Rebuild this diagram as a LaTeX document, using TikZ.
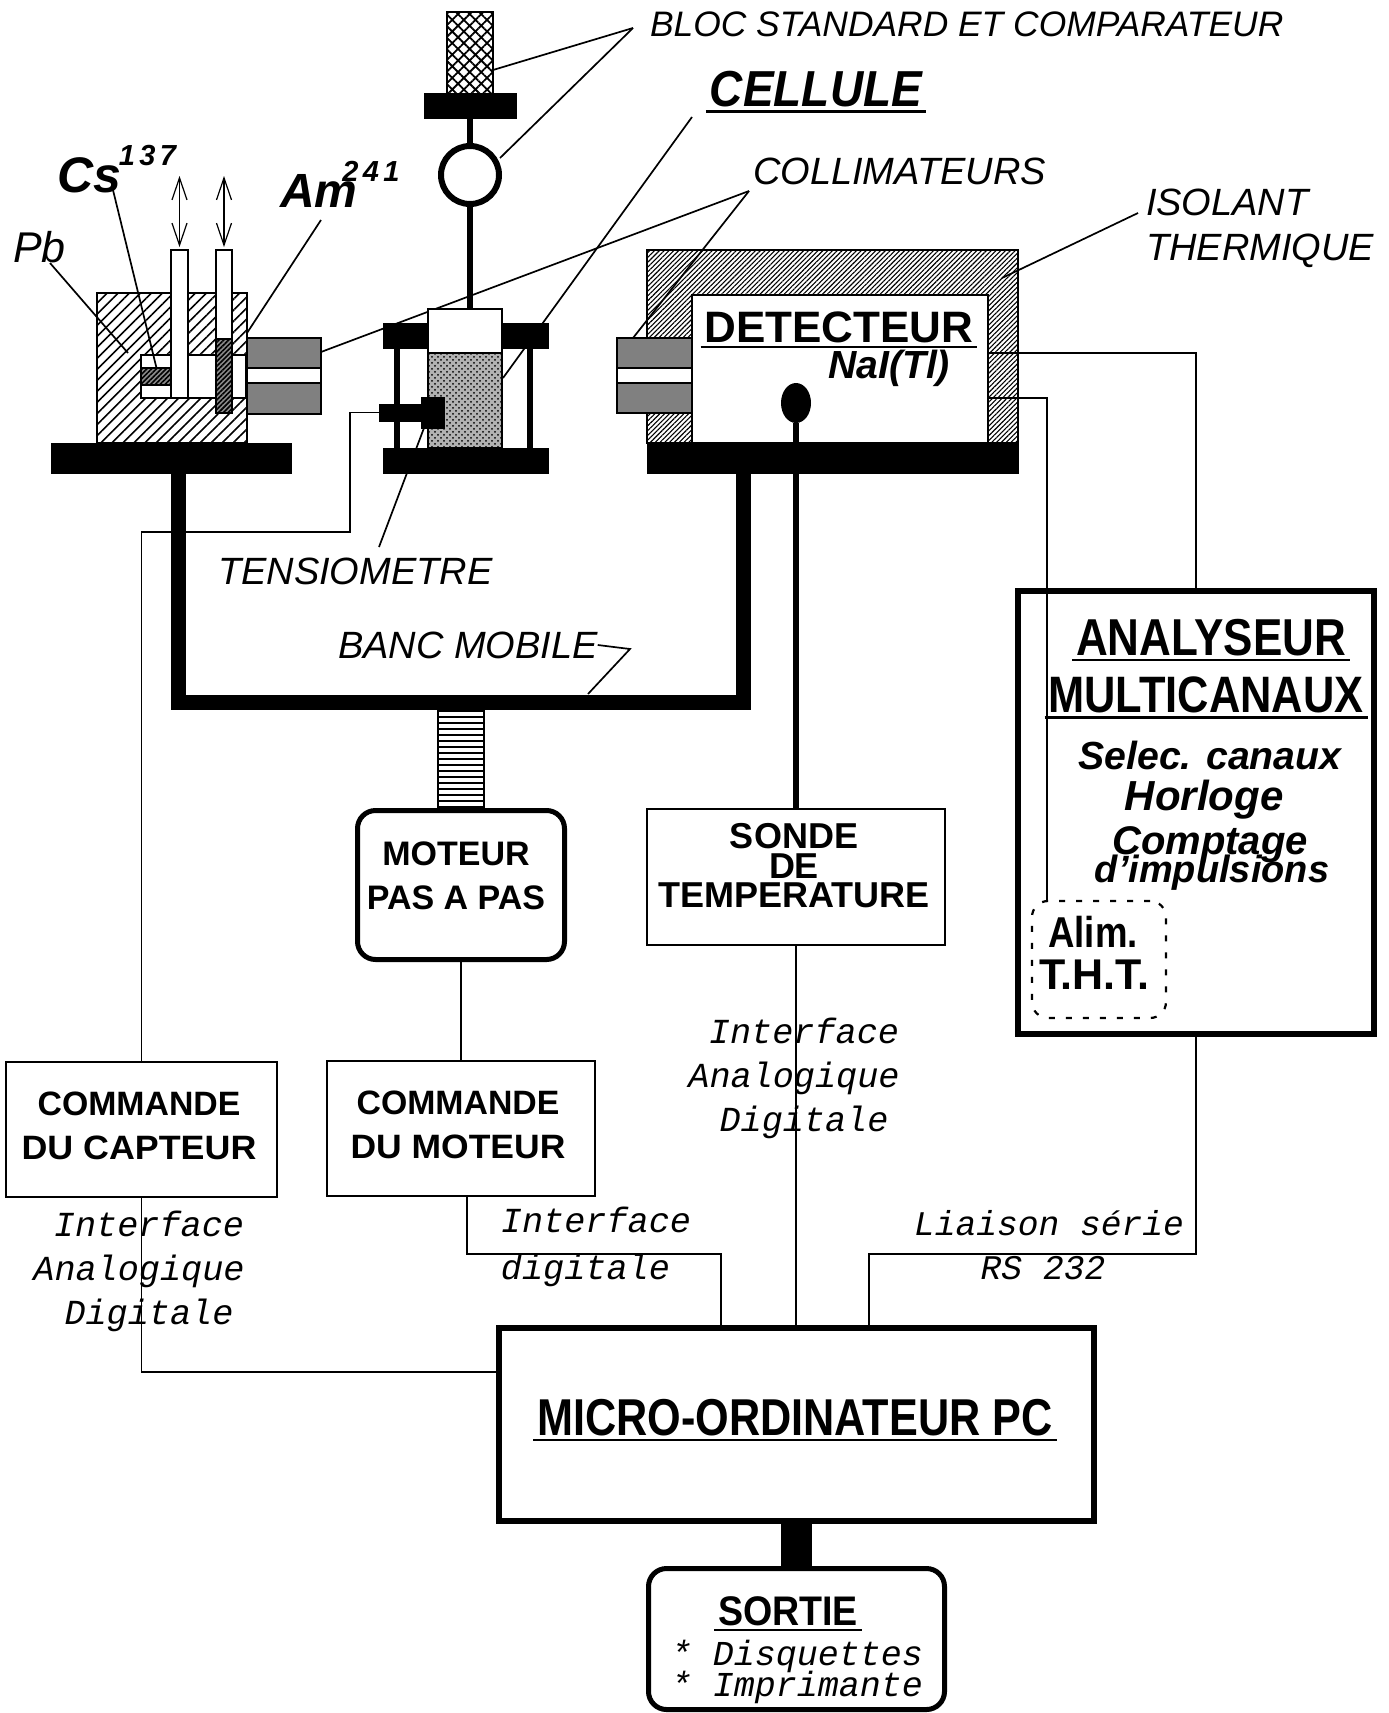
\documentclass[tikz,border=0pt]{standalone}
\usepackage{fontspec}
\setmainfont{Liberation Sans}
\setmonofont{Liberation Mono}
\usepackage{tikz}
\usetikzlibrary{arrows.meta, patterns, patterns.meta, shapes.geometric}

\newcommand{\fsz}[2]{\fontsize{#1}{#2}\selectfont}
\newcommand{\ulb}[2][1]{\vtop{\hbox{\kern2pt\scalebox{1}[#1]{#2}\kern2pt}\kern1.5pt\hrule height 1.3pt}}

\begin{document}
\begin{tikzpicture}[
    x=0.5pt, y=-0.5pt,
    >={Straight Barb[length=11pt, width=7.5pt]},
    every node/.style={inner sep=0pt, outer sep=0pt},
    solid plate/.style={fill=black, draw=black},
    pbhatch/.style={draw, line width=0.8pt,
        pattern={Lines[angle=45, distance=3.9pt, line width=0.8pt]}},
    thermhatch/.style={draw, line width=0.8pt,
        pattern={Lines[angle=45, distance=1.7pt, line width=0.55pt]}},
    srchatch/.style={draw, line width=0.8pt, preaction={fill=black!45},
        pattern={Lines[angle=45, distance=1.7pt, line width=0.8pt]}},
    collim/.style={draw, line width=0.9pt, fill=black!50},
    white box/.style={draw, fill=white, line width=0.9pt},
    cmdbox/.style={draw, line width=0.9pt},
    cmdlabel/.style={align=center, font=\bfseries\fsz{16.9}{22}},
    roundbox/.style={draw, fill=white, line width=2.5pt, rounded corners=9pt},
    wire/.style={line width=0.9pt},
    leader/.style={line width=0.85pt},
    stem/.style={line width=3pt},
    updown/.style={<->, line width=0.6pt, shorten >=1.5pt},
    capslabel/.style={anchor=west, font=\itshape\fsz{19}{21}, align=left},
    boldlabel/.style={font=\bfseries\itshape\fsz{20}{20}},
    ifacelabel/.style={align=center, font=\ttfamily\itshape\fsz{17.6}{22}}
]
\useasboundingbox (0,0) rectangle (1388,1713);

% Source housing
\node[pbhatch, minimum width=75pt, minimum height=75pt] (housing) at (172,368) {};
\node[white box, minimum width=52.5pt, minimum height=21.5pt] (cavity) at (193.5,376.5) {};
\node[srchatch, minimum width=15.5pt, minimum height=8.5pt] (cssource) at (156.5,376.5) {};
\node[white box, minimum width=8.5pt, minimum height=74pt] (csrod) at (179.5,324) {};
\node[white box, minimum width=8pt, minimum height=44.5pt] (amrod) at (224,294.5) {};
\node[srchatch, minimum width=8pt, minimum height=37pt] (amsource) at (224,376) {};
\node[solid plate, minimum width=120pt, minimum height=15pt] (leftbase) at (171,458) {};
\node[collim, minimum width=37pt, minimum height=38pt] (leftcoll) at (284,376) {};
\node[white box, minimum width=37pt, minimum height=7.5pt] (leftslit) at (284,375.5) {};
\coordinate (cstop) at (179.5,176);
\coordinate (amtop) at (224,176);
\draw[updown] (cstop) -- (csrod.north);
\draw[updown] (amtop) -- (amrod.north);

% Collimator leaders pass behind the cell
\coordinate (colltip) at (749,191);
\coordinate (collfoot) at (321,352);
\coordinate (collright) at (633,338);
\draw[leader] (colltip) -- (collfoot);
\draw[leader] (colltip) -- (collright);

% Standard block and comparator
\node[draw, line width=0.9pt, pattern={Hatch[angle=45, distance=4.1pt, line width=0.9pt]},
      minimum width=23pt, minimum height=44pt] (standard) at (470,56) {};
\node[solid plate, minimum width=46pt, minimum height=12.5pt] (blocplate) at (470,105.5) {};
\node[circle, draw, fill=white, line width=3pt, minimum size=29pt] (comparator) at (470,175) {};
\draw[stem] (blocplate.south) -- (comparator.north);

% Cell
\coordinate (pillarl) at (397,400);
\coordinate (pillarr) at (529.5,400);
\node[solid plate, minimum width=82.5pt, minimum height=12.5pt] (cellplate) at (465.5,335.5) {};
\node[solid plate, minimum width=82.5pt, minimum height=12.5pt] (cellbase) at (465.5,460.5) {};
\draw[stem] (pillarl |- cellplate.south) -- (pillarl |- cellbase.north);
\draw[stem] (pillarr |- cellplate.south) -- (pillarr |- cellbase.north);
\node[white box, minimum width=37pt, minimum height=22pt] (celltop) at (465,331) {};
\node[draw, line width=0.9pt, preaction={fill=black!30}, pattern=crosshatch dots,
      minimum width=37pt, minimum height=47.5pt] (cellbody) at (465,400.5) {};
\draw[stem] (comparator.south) -- (comparator.south |- celltop.north);
\node[solid plate, minimum width=21.5pt, minimum height=8.5pt] (tensiobar) at (400.5,412.5) {};
\node[solid plate, minimum width=11.5pt, minimum height=15.5pt] (tensioblock) at (432.5,412.5) {};

% Detector
\node[thermhatch, minimum width=185.5pt, minimum height=96.5pt] (shell) at (832.5,346.5) {};
\node[white box, minimum width=148pt, minimum height=74pt] (chamber) at (840,369) {};
\node[solid plate, minimum width=185.5pt, minimum height=15pt] (detbase) at (832.5,458) {};
\node[collim, minimum width=37.5pt, minimum height=37.5pt] (rightcoll) at (654.5,375.5) {};
\node[white box, minimum width=37.5pt, minimum height=7.5pt] (rightslit) at (654.5,375.5) {};
\node[ellipse, fill=black, minimum width=15pt, minimum height=20pt] (probe) at (796,403) {};

% Mobile bench and motor
\coordinate (bancleft) at (178.5,702);
\coordinate (bancright) at (743.5,702);
\draw[line width=7.5pt] (bancleft |- leftbase.south) -- (bancleft) -- (bancright) -- (bancright |- detbase.south);
\node[draw, line width=0.9pt, pattern={Lines[angle=0, distance=3pt, line width=1.4pt]},
      minimum width=23pt, minimum height=50pt] (screw) at (461,759) {};
\node[roundbox, minimum width=103.5pt, minimum height=74.5pt] (moteur) at (461,885) {};
\node[cmdbox, minimum width=149pt, minimum height=68pt] (sonde) at (796,877) {};
\node[cmdbox, minimum width=134pt, minimum height=67.5pt] (cmdmoteur) at (461,1128.5) {};
\node[cmdbox, minimum width=135.5pt, minimum height=67.5pt] (cmdcapteur) at (141.5,1129.5) {};
\draw[stem] (probe.south) -- (sonde.north);
\draw[wire] (moteur.south) -- (cmdmoteur.north);
\node[cmdlabel, font=\bfseries\fsz{17}{22}] (moteurlabel) at (456,876) {MOTEUR\\PAS A PAS};
\node[cmdlabel, font=\bfseries\fsz{18}{14.75}] (sondelabel) at (794,866) {SONDE\\DE\\TEMPERATURE};
\node[cmdlabel] (cmdmotlabel) at (458,1125) {COMMANDE\\\scalebox{1.05}[1]{DU MOTEUR}};
\node[cmdlabel] (cmdcaplabel) at (139,1126) {COMMANDE\\\scalebox{1.06}[1]{DU CAPTEUR}};

% Analyser and PC
\node[draw, line width=3pt, minimum width=178pt, minimum height=221.5pt] (analyseur) at (1196,812) {};
\node[draw, dashed, dash pattern=on 3pt off 5.5pt, line width=1.1pt, rounded corners=8pt,
      minimum width=67pt, minimum height=58.5pt] (alim) at (1099,959.5) {};
\node[draw, line width=3pt, minimum width=297.5pt, minimum height=96.5pt] (pc) at (796,1424.5) {};
\node[roundbox, minimum width=148pt, minimum height=70.5pt] (sortie) at (796.5,1639) {};
\draw[line width=15.5pt] (pc.south -| sortie.north) -- (sortie.north);

% Wires
\coordinate (detout) at (988,353);
\coordinate (detlow) at (988,398);
\coordinate (alimin) at (1047,900);
\coordinate (tensioturn) at (350,532);
\coordinate (capjoin) at (141.5,1372);
\coordinate (motout) at (467,1254);
\coordinate (motin) at (721,1254);
\coordinate (anaturn) at (869,1254);
\draw[wire] (detout) -| (analyseur.north);
\draw[wire] (detlow) -| (alimin |- alim.north);
\draw[wire] (tensiobar.west) -| (tensioturn) -| (cmdcapteur.north);
\draw[wire] (cmdcapteur.south) -- (capjoin) -- (capjoin -| pc.west);
\draw[wire] (motout |- cmdmoteur.south) -- (motout) -- (motin) -- (motin |- pc.north);
\draw[wire] (sonde.south) -- (sonde.south |- pc.north);
\draw[wire] (analyseur.south) |- (anaturn) -- (anaturn |- pc.north);

% Leaders
\coordinate (bloctip) at (633,28);
\coordinate (blocfoot) at (493,70);
\coordinate (comparfoot) at (500,158);
\coordinate (celltip) at (692,117);
\coordinate (cellfoot) at (503,378);
\coordinate (isotip) at (1138,213);
\coordinate (isofoot) at (1002,278);
\coordinate (pbtip) at (50,263);
\coordinate (pbfoot) at (128,353);
\coordinate (cstip) at (113,190);
\coordinate (amtip) at (321,220);
\coordinate (amfoot) at (247,333);
\coordinate (tensiotip) at (379,547);
\coordinate (tensiofoot) at (424,428);
\coordinate (bancjog) at (630,649);
\coordinate (bancfoot) at (588,694);
\draw[leader] (bloctip) -- (blocfoot);
\draw[leader] (bloctip) -- (comparfoot);
\draw[leader] (celltip) -- (cellfoot);
\draw[leader] (isotip) -- (isofoot);
\draw[leader] (pbtip) -- (pbfoot);
\draw[leader] (cstip) -- (cssource.north);
\draw[leader] (amtip) -- (amfoot);
\draw[leader] (tensiotip) -- (tensiofoot);

% Labels
\node[capslabel, font=\itshape\fsz{17.7}{20}] (bloclabel) at (650,24) {BLOC STANDARD ET COMPARATEUR};
\node[font=\bfseries\itshape\fsz{23}{24}] (celllabel) at (816,92) {\ulb[1.1]{CELLULE}};
\node[capslabel] (colllabel) at (753,171) {COLLIMATEURS};
\node[capslabel, font=\itshape\fsz{19}{22.5}] (isolabel) at (1146,228.5) {ISOLANT\\THERMIQUE};
\node[anchor=base west, font=\itshape\fsz{21.5}{20}] (pblabel) at (13,262) {Pb};
\node[anchor=base west, font=\bfseries\itshape\fsz{25}{24}] (cslabel) at (57,192)
    {Cs\kern-1pt\raisebox{13.5pt}{\fsz{14.5}{14}\addfontfeature{LetterSpace=15}137}};
\node[anchor=base west, font=\bfseries\itshape\fsz{24}{24}] (amlabel) at (280,207)
    {Am\kern-7.5pt\raisebox{13pt}{\fsz{14.5}{14}\addfontfeature{LetterSpace=15}241}};
\node[capslabel] (tensiolabel) at (218,571) {TENSIOMETRE};
\node[capslabel] (banclabel) at (338,645) {BANC MOBILE};
\draw[leader] (banclabel.east) -- (bancjog) -- (bancfoot);
\node[font=\bfseries\fsz{22}{24}] (detlabel) at (839,330) {\ulb{DETECTEUR}};
\node[boldlabel, font=\bfseries\itshape\fsz{19.6}{20}] (nailabel) at (889,368) {NaI(Tl)};

\node[font=\bfseries\fsz{22}{24}] (analabel) at (1211,640) {\ulb[1.18]{ANALYSEUR}};
\node[font=\bfseries\fsz{21.7}{24}] (multilabel) at (1206,698) {\ulb[1.18]{MULTICANAUX}};
\node[boldlabel, font=\bfseries\itshape\fsz{19.6}{20}] (selec) at (1210,755) {Selec. canaux};
\node[boldlabel, font=\bfseries\itshape\fsz{21}{20}] (horloge) at (1204,800) {Horloge};
\node[boldlabel] (comptage) at (1210,845) {Comptage};
\node[boldlabel, font=\bfseries\itshape\fsz{19}{20}] (impuls) at (1212,873) {d'impulsions};
\node[font=\bfseries\fsz{18.3}{20}] (alimlabel) at (1093,932) {\scalebox{1}[1.18]{Alim.}};
\node[font=\bfseries\fsz{21.5}{20}] (thtlabel) at (1094,975) {T.H.T.};

\node[ifacelabel] (ifacecap) at (149,1271) {Interface\\\mbox{Analogique\kern10pt}\\Digitale};
\node[ifacelabel] (ifacesonde) at (804,1078) {Interface\\\mbox{Analogique\kern10pt}\\Digitale};
\node[ifacelabel, align=left, font=\ttfamily\itshape\fsz{17.6}{23.5}] (ifacemot) at (596,1247) {Interface\\digitale};
\node[ifacelabel, font=\ttfamily\itshape\fsz{17.3}{22}] (liaison) at (1049,1245) {Liaison série\\\mbox{RS 232\kern6pt}};

\node[font=\bfseries\fsz{21.6}{26}] (pclabel) at (795,1420) {\ulb[1.2]{MICRO-ORDINATEUR PC}};
\node[font=\bfseries\fsz{18.8}{22}] (sortielabel) at (788,1614) {\ulb[1.1]{SORTIE}};
\node[ifacelabel, align=left, font=\ttfamily\itshape\fsz{17.5}{15}] (sortieliste) at (797,1672) {* Disquettes\\[-2pt]* Imprimante};

\end{tikzpicture}
\end{document}
